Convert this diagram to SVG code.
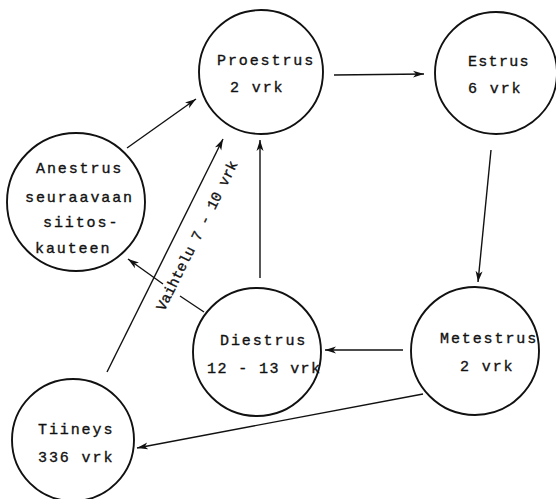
<svg xmlns="http://www.w3.org/2000/svg" width="556" height="499" viewBox="0 0 556 499">
<style>
.node{fill:#fff;stroke:#111;stroke-width:1.9}
.t{font-family:"Liberation Mono","DejaVu Sans Mono",monospace;font-size:15px;letter-spacing:1.9px;fill:#111;stroke:#111;stroke-width:0.35}
.lbl{font-family:"Liberation Mono","DejaVu Sans Mono",monospace;font-size:14.5px;letter-spacing:0px;fill:#111;stroke:#111;stroke-width:0.35}
.e{fill:none;stroke:#111;stroke-width:1.4}
</style>
<defs>
<marker id="ah" markerUnits="userSpaceOnUse" markerWidth="12" markerHeight="8" refX="11" refY="4" orient="auto">
<path d="M0,0.5 L11,4 L0,7.5 L3,4 z" fill="#111"/>
</marker>
</defs>
<rect width="556" height="499" fill="#fff"/>
<g id="connectors">
<line class="e" x1="127" y1="148" x2="196" y2="99" marker-end="url(#ah)"/>
<line class="e" x1="334" y1="75" x2="424" y2="74" marker-end="url(#ah)"/>
<line class="e" x1="491" y1="150" x2="478" y2="282" marker-end="url(#ah)"/>
<line class="e" x1="403" y1="350" x2="325" y2="350" marker-end="url(#ah)"/>
<line class="e" x1="423" y1="394" x2="137" y2="448" marker-end="url(#ah)"/>
<line class="e" x1="260" y1="278" x2="260" y2="140" marker-end="url(#ah)"/>
<line class="e" x1="204" y1="312" x2="180" y2="296"/>
<line class="e" x1="163" y1="284" x2="128" y2="259" marker-end="url(#ah)"/>
<line class="e" x1="107" y1="372" x2="223" y2="139" marker-end="url(#ah)"/>
<text class="lbl" transform="translate(197.5,236) rotate(-63.5)" x="0" y="4" text-anchor="middle">Vaihtelu 7 - 10 vrk</text>
</g>
<g id="proestrus">
<circle class="node" cx="261" cy="72" r="62"/>
<text class="t" x="217" y="65">Proestrus</text>
<text class="t" x="230" y="92">2 vrk</text>
</g>
<g id="estrus">
<circle class="node" cx="496" cy="73" r="61"/>
<text class="t" x="468" y="66" style="letter-spacing:1.3px">Estrus</text>
<text class="t" x="468" y="93">6 vrk</text>
</g>
<g id="anestrus">
<circle class="node" cx="76" cy="202" r="69"/>
<text class="t" x="36" y="173">Anestrus</text>
<text class="t" x="25" y="202">seuraavaan</text>
<text class="t" x="43" y="227">siitos-</text>
<text class="t" x="35" y="253">kauteen</text>
</g>
<g id="diestrus">
<circle class="node" cx="257" cy="352" r="64"/>
<text class="t" x="220" y="345">Diestrus</text>
<text class="t" x="207" y="373" style="letter-spacing:1.4px">12 - 13 vrk</text>
</g>
<g id="metestrus">
<circle class="node" cx="475" cy="351" r="64"/>
<text class="t" x="440" y="343">Metestrus</text>
<text class="t" x="460" y="371">2 vrk</text>
</g>
<g id="tiineys">
<circle class="node" cx="73" cy="440" r="61"/>
<text class="t" x="38" y="434">Tiineys</text>
<text class="t" x="38" y="462">336 vrk</text>
</g>
</svg>
